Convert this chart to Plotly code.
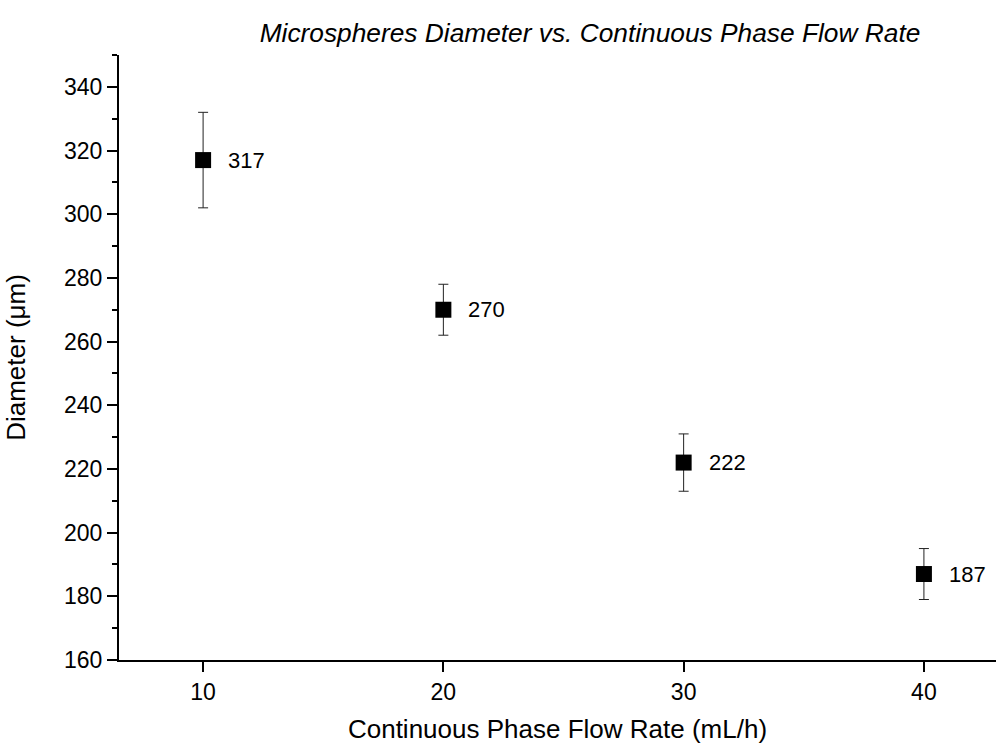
import plotly.graph_objects as go

flow_rate = [10, 20, 30, 40]
diameter = [317, 270, 222, 187]
diameter_err = [15, 8, 9, 8]

FONT = "Liberation Sans, Arial, sans-serif"

fig = go.Figure()
fig.add_trace(go.Scatter(
    x=flow_rate,
    y=diameter,
    mode="markers",
    marker=dict(symbol="square", size=16, color="black"),
    error_y=dict(type="data", array=diameter_err, visible=True,
                 color="#222222", thickness=1, width=5),
    showlegend=False,
))

for xv, yv in zip(flow_rate, diameter):
    fig.add_annotation(x=xv, y=yv, xref="x", yref="y", text=str(yv),
                       showarrow=False, xanchor="left", yanchor="middle",
                       xshift=23, font=dict(family=FONT, size=22, color="black"))

fig.update_layout(
    width=996, height=744,
    margin=dict(l=119, r=0, t=55, b=84),
    paper_bgcolor="white", plot_bgcolor="white",
    font=dict(family=FONT, color="black"),
    title=dict(text="<i>Microspheres Diameter vs. Continuous Phase Flow Rate</i>",
               x=590 / 996, xref="container", xanchor="center",
               y=1 - 33 / 744, yanchor="middle",
               font=dict(family=FONT, size=26.3, color="black")),
)
fig.update_xaxes(
    range=[6.5, 43], tickvals=[10, 20, 30, 40], showgrid=False, zeroline=False,
    showline=True, linecolor="black", linewidth=2,
    ticks="outside", ticklen=10, tickwidth=2, tickcolor="black",
    tickfont=dict(size=23), title=dict(text="Continuous Phase Flow Rate (mL/h)",
                                       font=dict(size=26), standoff=19),
)
fig.update_yaxes(
    range=[160, 350], tickvals=[160, 180, 200, 220, 240, 260, 280, 300, 320, 340],
    showgrid=False, zeroline=False,
    showline=True, linecolor="black", linewidth=2,
    ticks="outside", ticklen=10, tickwidth=2, tickcolor="black",
    minor=dict(dtick=10, tick0=150, ticks="outside", ticklen=5, tickwidth=2,
               tickcolor="black", showgrid=False),
    tickfont=dict(size=23), title=dict(text="Diameter (μm)", font=dict(size=26), standoff=31),
)

fig.write_html("out.html")
